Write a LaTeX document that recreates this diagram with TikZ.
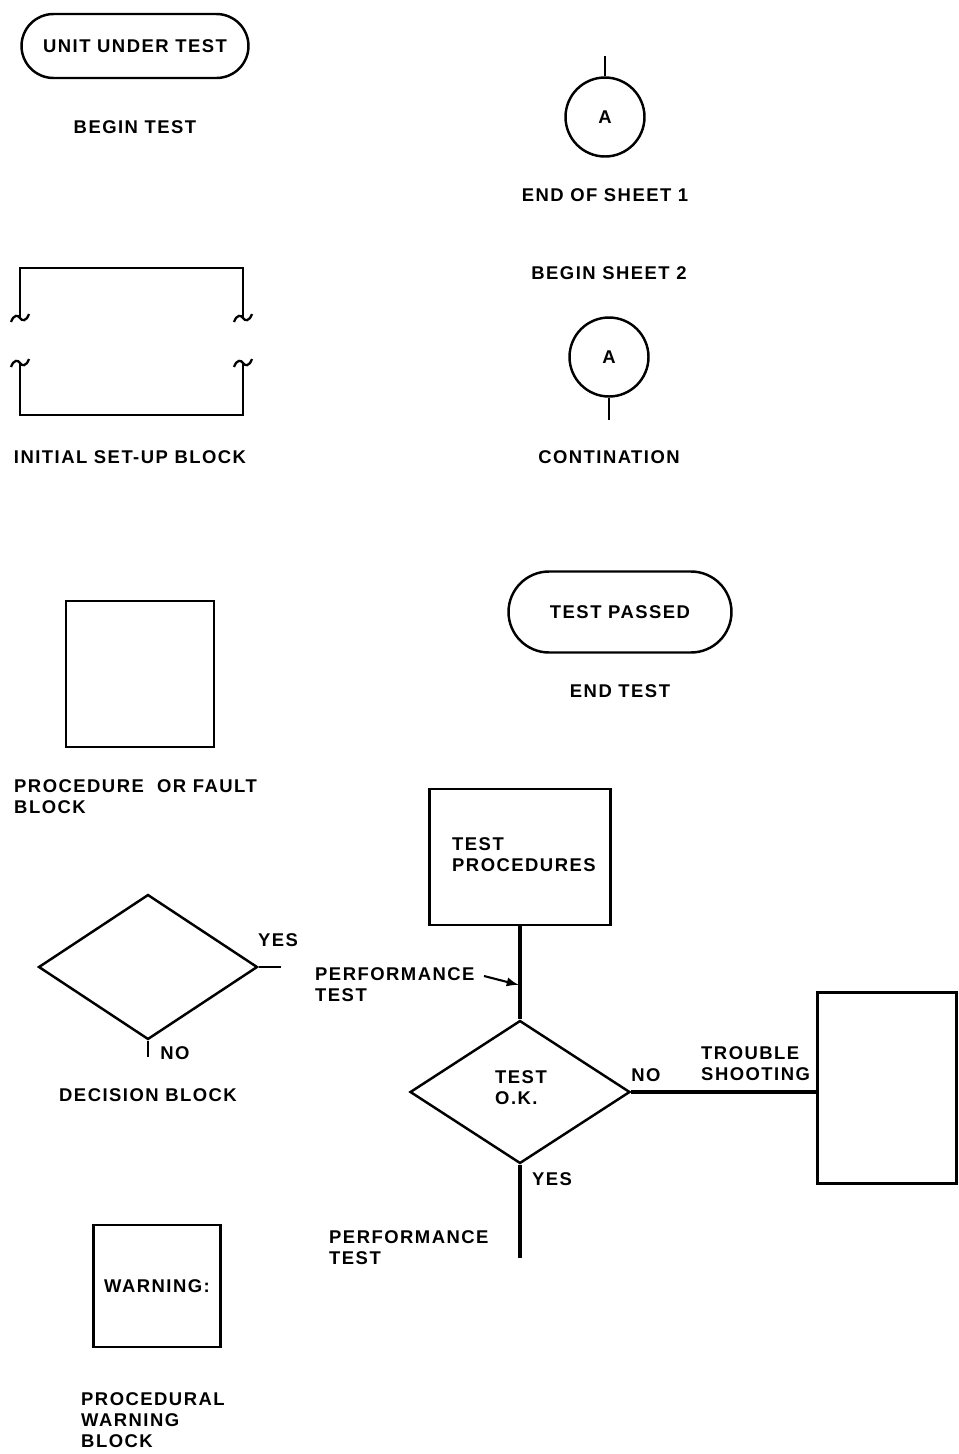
\documentclass[tikz,border=0pt]{standalone}
\usepackage{fontspec}
\setmainfont{Liberation Sans}[LetterSpace=8]
\usetikzlibrary{arrows.meta, shapes.geometric, positioning}

\begin{document}
\begin{tikzpicture}[x=0.02cm, y=-0.02cm, line width=1.4pt,
    font=\bfseries\fontsize{10.5}{12}\selectfont,
    every node/.style={inner sep=0pt, align=left},
    terminal/.style={draw, rectangle, rounded corners=#1},
    box/.style={draw, rectangle},
    decision/.style={draw, diamond},
    connector/.style={draw, circle, minimum size=1.58cm}]
  \useasboundingbox (0,0) rectangle (959,1454);

  % begin and end of test
  \node[terminal=0.64cm, minimum width=4.54cm, minimum height=1.28cm] (uut) at (135,46) {UNIT UNDER TEST};
  \node[below=0.8cm of uut] (begintest) {BEGIN TEST};
  \node[terminal=0.81cm, minimum width=4.46cm, minimum height=1.62cm] (passed) at (620,612) {TEST PASSED};
  \node[below=0.6cm of passed] (endtest) {END TEST};

  % sheet connectors
  \node[connector] (conA) at (605,117) {A};
  \coordinate (conAin) at (605,56);
  \draw (conAin) -- (conA);
  \node[below=0.6cm of conA] (endsheet) {END OF SHEET 1};
  \node[connector] (conB) at (609,357) {A};
  \coordinate (conBout) at (609,420);
  \draw (conB) -- (conBout);
  \node[above=0.7cm of conB] (beginsheet) {BEGIN SHEET 2};
  \node[below=1.03cm of conB] (contin) {CONTINATION};

  % initial set-up block, sides broken
  \draw (20,317) -- (20,268) -- (243,268) -- (243,317);
  \draw (20,363) -- (20,415) -- (243,415) -- (243,363);
  \foreach \x in {20,243} {
    \draw[line width=1.3pt] (\x-9,322) .. controls (\x-6,314) and (\x-2,315) .. (\x,318) .. controls (\x+2,321) and (\x+6,322) .. (\x+9,314);
    \draw[line width=1.3pt] (\x-9,367) .. controls (\x-6,359) and (\x-2,360) .. (\x,363) .. controls (\x+2,366) and (\x+6,367) .. (\x+9,359);
  }
  \node (setup) at (130,457) {INITIAL SET-UP BLOCK};

  % procedure block
  \node[box, minimum width=2.96cm, minimum height=2.92cm] (proc) at (140,674) {};
  \node[anchor=west] (proclbl) at (13,797) {PROCEDURE\ \ OR FAULT\\BLOCK};

  % decision block
  \node[decision, minimum width=4.38cm, minimum height=2.9cm] (dec) at (148,967) {};
  \coordinate (decyes) at (281,967);
  \coordinate (decno) at (148,1057);
  \draw (dec.east) -- (decyes);
  \draw (dec.south) -- (decno);
  \node (yeslbl) at (278,940) {YES};
  \node (nolbl) at (175,1053) {NO};
  \node[below=0.93cm of dec] (declbl) {DECISION BLOCK};

  % warning block
  \node[box, minimum width=2.54cm, minimum height=2.44cm] (warn) at (157,1286) {WARNING:};
  \node[anchor=west] (warnlbl) at (80,1420) {PROCEDURAL\\WARNING\\BLOCK};

  % sample flow
  \node[box, minimum width=3.62cm, minimum height=2.72cm] (procs) at (520,857) {};
  \node[anchor=west] (procslbl) at (451,855) {TEST\\PROCEDURES};
  \node[decision, minimum width=4.4cm, minimum height=2.86cm] (ok) at (520,1092) {};
  \node[anchor=west] (oklbl) at (494,1088) {TEST\\O.K.};
  \node[box, minimum width=2.78cm, minimum height=3.82cm] (trouble) at (887,1088) {};
  \coordinate (perftail) at (484,976);
  \coordinate (perfpt) at (519,985);
  \coordinate (yesend) at (520,1258);
  \draw[line width=2.4pt] (procs.south) -- (ok.north);
  \draw[line width=2.4pt] (ok.south) -- (yesend);
  \draw[line width=1.8pt] (ok.east) -- (ok.east -| trouble.west);
  \draw[-{Latex[length=7pt]}, line width=1.2pt] (perftail) -- (perfpt);
  \node[anchor=west] (perf1) at (314,985) {PERFORMANCE\\TEST};
  \node (nolbl2) at (646,1075) {NO};
  \node[anchor=west] (troublelbl) at (700,1064) {TROUBLE\\SHOOTING};
  \node (yeslbl2) at (552,1179) {YES};
  \node[anchor=west] (perf2) at (328,1248) {PERFORMANCE\\TEST};
\end{tikzpicture}
\end{document}
